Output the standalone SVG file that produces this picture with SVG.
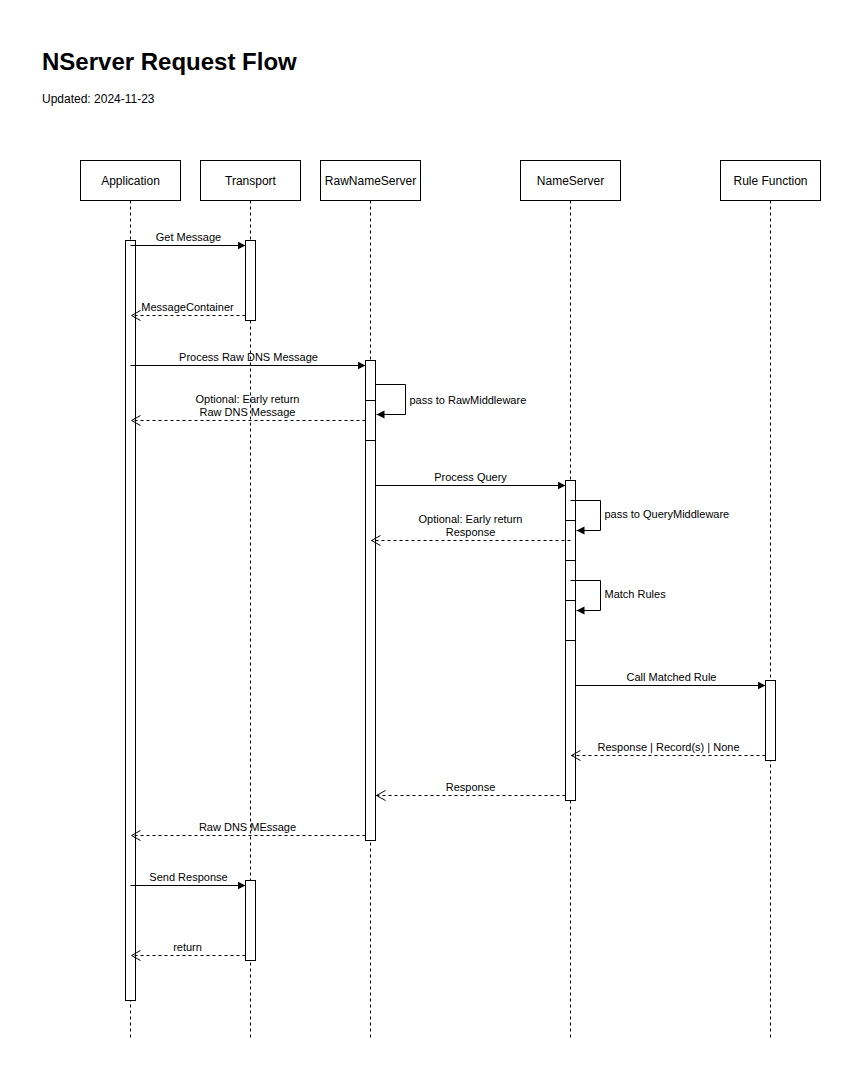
<svg xmlns="http://www.w3.org/2000/svg" width="861" height="1081" viewBox="0 0 861 1081">
<style>
text{font-family:"Liberation Sans",Arial,sans-serif;fill:#000}
.hd{fill:#fff;stroke:#000;stroke-width:1}
.ht{font-size:12px;text-anchor:middle}
.life{stroke:#000;stroke-width:1;stroke-dasharray:3 3;fill:none}
.act{fill:#fff;stroke:#000;stroke-width:1}
.msg{stroke:#000;stroke-width:1;fill:none;marker-end:url(#fa)}
.ret{stroke:#000;stroke-width:1;fill:none;stroke-dasharray:3 3;marker-end:url(#oa)}
.lb{font-size:11px;text-anchor:middle}
.ls{font-size:11px}
</style>
<defs>
<marker id="fa" markerWidth="10" markerHeight="10" refX="8" refY="4" orient="auto" markerUnits="userSpaceOnUse"><path d="M0,0 L8,4 L0,8 Z" fill="#000"/></marker>
<marker id="oa" markerWidth="12" markerHeight="12" refX="9" refY="5" orient="auto" markerUnits="userSpaceOnUse"><path d="M0,0 L9,5 L0,10" fill="none" stroke="#000"/></marker>
</defs>
<rect width="861" height="1081" fill="#fff"/>
<text x="42" y="70" style="font-size:24px;font-weight:bold">NServer Request Flow</text>
<text x="42" y="103" style="font-size:12px">Updated: 2024-11-23</text>

<g transform="translate(0.5,0.5)">
<g id="lifelines">
<line class="life" x1="130" y1="200" x2="130" y2="1037"/>
<line class="life" x1="250" y1="200" x2="250" y2="1037"/>
<line class="life" x1="370" y1="200" x2="370" y2="1037"/>
<line class="life" x1="570" y1="200" x2="570" y2="1037"/>
<line class="life" x1="770" y1="200" x2="770" y2="1037"/>
</g>

<g id="application"><rect class="hd" x="80" y="160" width="100" height="40"/><text class="ht" x="130" y="184">Application</text><rect class="act" x="125" y="240" width="10" height="760"/></g>
<g id="transport"><rect class="hd" x="200" y="160" width="100" height="40"/><text class="ht" x="250" y="184">Transport</text><rect class="act" x="245" y="240" width="10" height="80"/><rect class="act" x="245" y="880" width="10" height="80"/></g>
<g id="rawnameserver"><rect class="hd" x="320" y="160" width="100" height="40"/><text class="ht" x="370" y="184">RawNameServer</text><rect class="act" x="365" y="360" width="10" height="480"/><rect class="act" x="365" y="400" width="10" height="40"/></g>
<g id="nameserver"><rect class="hd" x="520" y="160" width="100" height="40"/><text class="ht" x="570" y="184">NameServer</text><rect class="act" x="565" y="480" width="10" height="320"/><rect class="act" x="565" y="520" width="10" height="40"/><rect class="act" x="565" y="600" width="10" height="40"/></g>
<g id="rulefunction"><rect class="hd" x="720" y="160" width="100" height="40"/><text class="ht" x="770" y="184">Rule Function</text><rect class="act" x="765" y="680" width="10" height="80"/></g>

<g id="connectors">
<line class="msg" x1="130" y1="245" x2="245" y2="245"/>
<text class="lb" x="188" y="240">Get Message</text>
<line class="ret" x1="245" y1="315" x2="131" y2="315"/>
<text class="lb" x="187" y="310">MessageContainer</text>
<line class="msg" x1="130" y1="365" x2="365" y2="365"/>
<text class="lb" x="248" y="360">Process Raw DNS Message</text>
<path class="msg" d="M375,384 H405 V414 H376"/>
<text class="ls" x="409" y="403">pass to RawMiddleware</text>
<line class="ret" x1="365" y1="420" x2="131" y2="420"/>
<text class="lb" x="247" y="402">Optional: Early return</text>
<text class="lb" x="247" y="415">Raw DNS Message</text>
<line class="msg" x1="375" y1="485" x2="565" y2="485"/>
<text class="lb" x="470" y="480">Process Query</text>
<path class="msg" d="M570,500 H600 V530 H576"/>
<text class="ls" x="604" y="517">pass to QueryMiddleware</text>
<line class="ret" x1="570" y1="540" x2="371" y2="540"/>
<text class="lb" x="470" y="522">Optional: Early return</text>
<text class="lb" x="470" y="535">Response</text>
<path class="msg" d="M570,580 H600 V610 H576"/>
<text class="ls" x="604" y="597">Match Rules</text>
<line class="msg" x1="575" y1="685" x2="765" y2="685"/>
<text class="lb" x="671" y="680">Call Matched Rule</text>
<line class="ret" x1="765" y1="755" x2="571" y2="755"/>
<text class="lb" x="668" y="750">Response | Record(s) | None</text>
<line class="ret" x1="565" y1="795" x2="376" y2="795"/>
<text class="lb" x="470" y="790">Response</text>
<line class="ret" x1="365" y1="835" x2="131" y2="835"/>
<text class="lb" x="247" y="830">Raw DNS MEssage</text>
<line class="msg" x1="130" y1="885" x2="245" y2="885"/>
<text class="lb" x="188" y="880">Send Response</text>
<line class="ret" x1="245" y1="955" x2="131" y2="955"/>
<text class="lb" x="187" y="950">return</text>
</g>
</g>
</svg>
